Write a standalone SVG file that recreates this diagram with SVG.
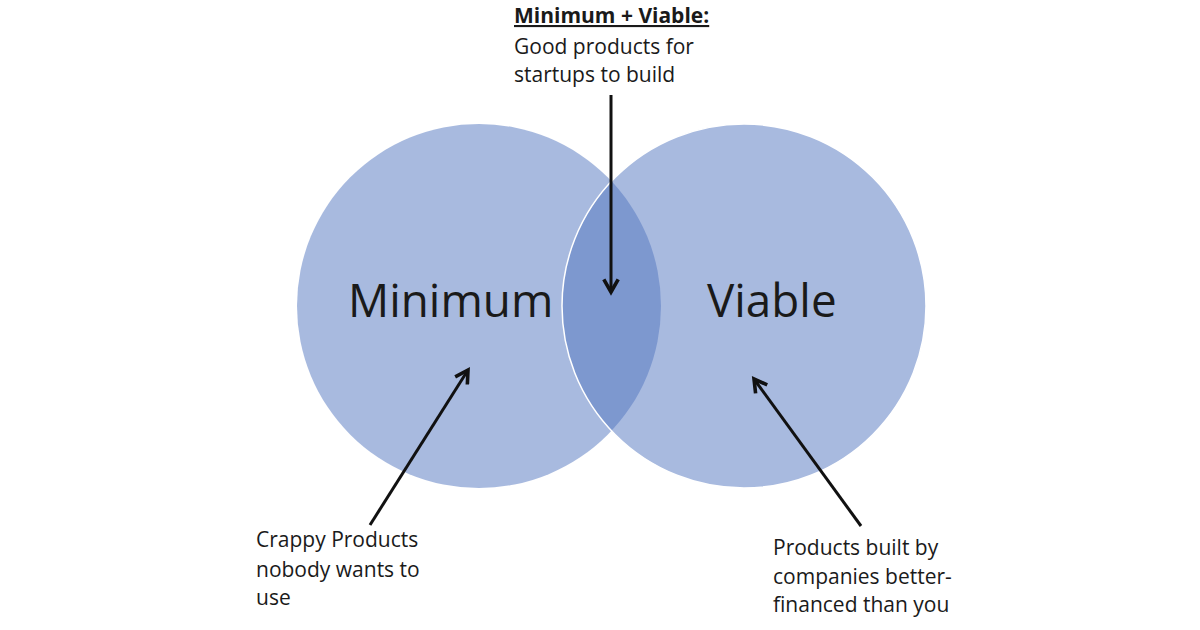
<svg xmlns="http://www.w3.org/2000/svg" width="1200" height="630" viewBox="0 0 1200 630">
<style>
.t{font-family:"Open Sans","Liberation Sans",sans-serif;fill:#1a1a1a}
.big{font-size:45.8px}
.lab{font-size:21px}
.c{fill:#5175bf;fill-opacity:0.5}
.arr{stroke:#111;stroke-width:3;fill:none}
</style>
<defs>
<marker id="ah" viewBox="0 0 10 10" refX="8" refY="5" markerWidth="6" markerHeight="6" orient="auto" markerUnits="strokeWidth">
<path d="M1,1 L8,5 L1,9" fill="none" stroke="#111" stroke-width="2"/>
</marker>
</defs>
<rect width="1200" height="630" fill="#fff"/>
<g id="minimum">
<circle class="c" cx="479" cy="306" r="182"/>
<text class="t big" x="348" y="317">Minimum</text>
</g>
<g id="viable">
<circle class="c" cx="744" cy="306" r="182" stroke="#fff" stroke-width="1.5"/>
<text class="t big" x="707" y="317">Viable</text>
</g>
<g id="label-top">
<text class="t lab" x="514" y="23" font-weight="bold" text-decoration="underline">Minimum + Viable:</text>
<text class="t lab" x="514" y="54">Good products for</text>
<text class="t lab" x="514" y="82">startups to build</text>
</g>
<g id="label-left">
<text class="t lab" x="256" y="547">Crappy Products</text>
<text class="t lab" x="256" y="577">nobody wants to</text>
<text class="t lab" x="256" y="605">use</text>
</g>
<g id="label-right">
<text class="t lab" x="773" y="555">Products built by</text>
<text class="t lab" x="773" y="584">companies better-</text>
<text class="t lab" x="773" y="612">financed than you</text>
</g>
<g id="connectors">
<line class="arr" x1="611" y1="95" x2="611" y2="292" marker-end="url(#ah)"/>
<line class="arr" x1="370" y1="525" x2="468" y2="370" marker-end="url(#ah)"/>
<line class="arr" x1="861" y1="526" x2="754" y2="379" marker-end="url(#ah)"/>
</g>
</svg>
